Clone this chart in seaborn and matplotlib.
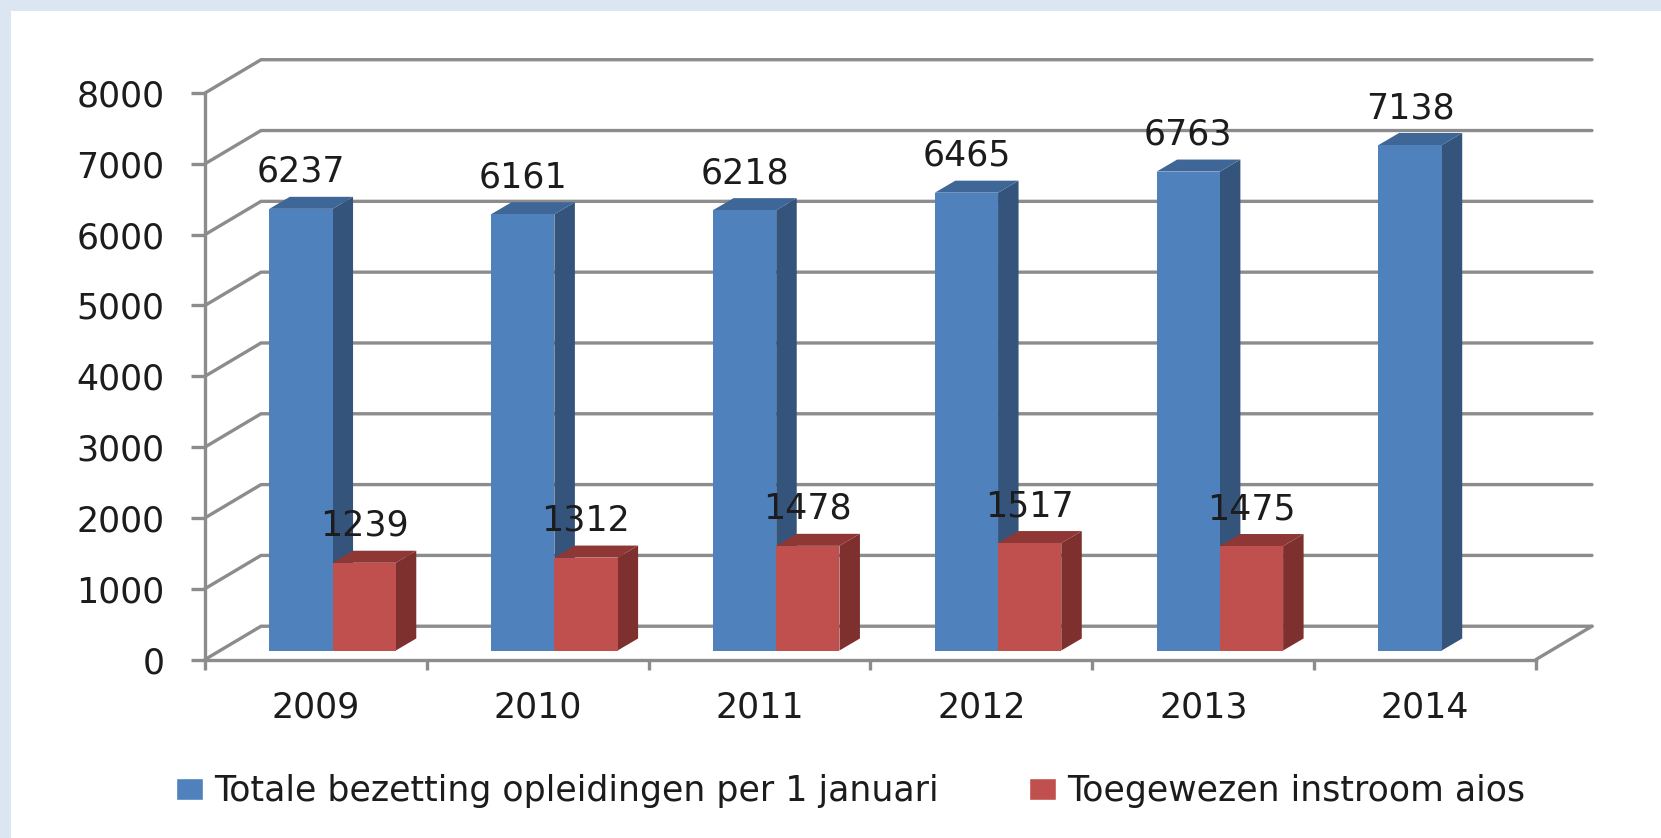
import matplotlib
matplotlib.use('Agg')
import matplotlib.pyplot as plt
from matplotlib.patches import Polygon, Rectangle
import seaborn as sns
import pandas as pd
import numpy as np

jaren = ['2009', '2010', '2011', '2012', '2013', '2014']
bezetting = [6237, 6161, 6218, 6465, 6763, 7138]
instroom = [1239, 1312, 1478, 1517, 1475, None]
naam_bezetting = 'Totale bezetting opleidingen per 1 januari'
naam_instroom = 'Toegewezen instroom aios'
y_ticks = [0, 1000, 2000, 3000, 4000, 5000, 6000, 7000, 8000]

W, H = 1661, 838
# diepte van de 3D-doos in data-eenheden
WAND_X, WAND_Y = 0.2525, 470
BAR_X, BAR_Y = 0.075, 127
ZIJ_X, ZIJ_Y = 0.0924, 170
GRIJS = '#8c8c8c'
TEKST = '#1c1c1c'
FS = 25
LW = 2.4

sns.set_theme(style='white')
plt.rcParams['font.family'] = ['DejaVu Sans']

df = pd.DataFrame({
    'jaar': jaren * 2,
    'waarde': bezetting + instroom,
    'reeks': [naam_bezetting] * 6 + [naam_instroom] * 6,
})

fig = plt.figure(figsize=(W / 100, H / 100), dpi=100, facecolor='#dce6f2')
fig.add_artist(Rectangle((11 / W, 0), 1 - 11 / W, 1 - 11 / H, transform=fig.transFigure,
                         facecolor='white', edgecolor='none', zorder=-5))
ax = fig.add_axes([205 / W, 1 - 659.5 / H, (1536 - 205) / W, (659.5 - 93) / H])
ax.patch.set_alpha(0)

sns.barplot(data=df, x='jaar', y='waarde', hue='reeks', order=jaren,
            hue_order=[naam_bezetting, naam_instroom], width=0.57, gap=0,
            palette={naam_bezetting: '#4f81bd', naam_instroom: '#c0504d'},
            saturation=1, ax=ax)
ax.set_xlim(-0.5, 5.5)
ax.set_ylim(0, 8000)
ax.set_xlabel('')
ax.set_ylabel('')

# wanden en bodem
for v in y_ticks:
    ax.plot([-0.5, -0.5 + WAND_X, 5.5 + WAND_X], [v, v + WAND_Y, v + WAND_Y], color=GRIJS,
            lw=LW, clip_on=False, zorder=1, solid_joinstyle='miter')
ax.plot([5.5, 5.5 + WAND_X], [0, WAND_Y], color=GRIJS, lw=LW, clip_on=False, zorder=1)

# balken naar achteren schuiven en 3D-vlakken toevoegen
zijkant = {0: '#34547c', 1: '#7d302e'}
bovenkant = {0: '#3e6696', 1: '#8e3735'}
for i, cont in enumerate(ax.containers):
    for bar in cont:
        h = bar.get_height()
        if not np.isfinite(h) or h <= 0:
            continue
        bar.set_x(bar.get_x() + BAR_X)
        bar.set_y(BAR_Y)
        bar.set_edgecolor('none')
        bar.set_zorder(3 + 2 * i)
        bar.set_clip_on(False)
        x0, x1 = bar.get_x(), bar.get_x() + bar.get_width()
        y0, y1 = BAR_Y, BAR_Y + h
        ax.add_patch(Polygon([(x1, y0), (x1 + ZIJ_X, y0 + ZIJ_Y), (x1 + ZIJ_X, y1 + ZIJ_Y), (x1, y1)],
                             facecolor=zijkant[i], edgecolor='none', zorder=2 + 2 * i, clip_on=False))
        ax.add_patch(Polygon([(x0, y1), (x0 + ZIJ_X, y1 + ZIJ_Y), (x1 + ZIJ_X, y1 + ZIJ_Y), (x1, y1)],
                             facecolor=bovenkant[i], edgecolor='none', zorder=2 + 2 * i, clip_on=False))
        ax.annotate(f'{int(h)}', ((x0 + x1) / 2, y1), xytext=(0, 37 * 0.72), textcoords='offset points',
                    ha='center', va='center', fontsize=FS, color=TEKST, zorder=10, annotation_clip=False)

# assen
sns.despine(ax=ax, top=True, right=True)
for s in ['left', 'bottom']:
    ax.spines[s].set_color(GRIJS)
    ax.spines[s].set_linewidth(LW)
    ax.spines[s].set_zorder(2)
ax.set_yticks(y_ticks)
ax.set_yticklabels([str(v) for v in y_ticks])
ax.set_xticks(np.arange(-0.5, 6, 1))
ax.set_xticklabels([])
ax.set_xticks(np.arange(6), labels=jaren, minor=True)
ax.tick_params(axis='y', left=True, length=10, width=LW, color=GRIJS, pad=19, labelsize=FS, labelcolor=TEKST)
ax.tick_params(axis='x', which='major', bottom=True, length=7, width=LW, color=GRIJS)
ax.tick_params(axis='x', which='minor', bottom=False, length=0, pad=22, labelsize=FS, labelcolor=TEKST)

handles, labels = ax.get_legend_handles_labels()
ax.legend(handles, labels, loc='center', bbox_to_anchor=(851 / W, 1 - 791 / H),
          bbox_transform=fig.transFigure, ncol=2, frameon=False, fontsize=FS, labelcolor=TEKST,
          handlelength=0.78, handleheight=0.58, handletextpad=0.32, columnspacing=2.6,
          borderpad=0, borderaxespad=0)

fig.savefig('out.png', dpi=100, facecolor=fig.get_facecolor())
